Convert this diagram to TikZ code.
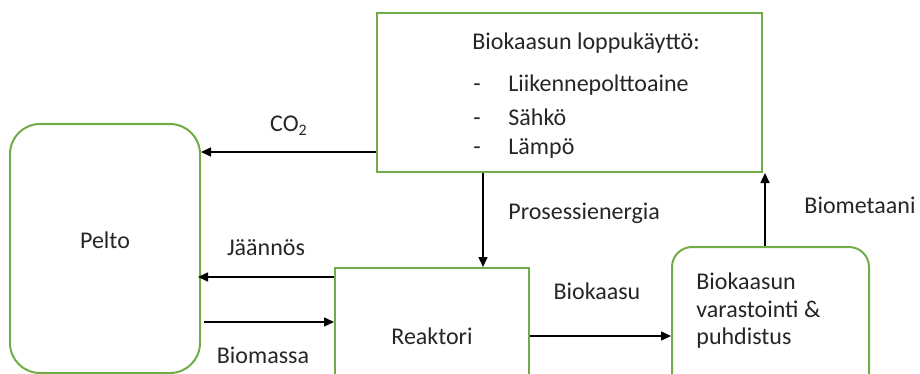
\documentclass[tikz,border=0pt]{standalone}
\usepackage{fontspec}
\setmainfont{Carlito}
\usetikzlibrary{arrows.meta}

\definecolor{boxgreen}{RGB}{112,173,71}
\definecolor{textgray}{RGB}{38,38,38}

\tikzset{
    box/.style={draw=boxgreen, line width=1pt, inner sep=0pt},
    flow/.style={-{Triangle[length=5pt,width=4.5pt]}, line width=0.75pt},
    txt/.style={text=textgray, inner sep=0pt}
}

\begin{document}
\begin{tikzpicture}[x=0.5pt, y=-0.5pt, font=\fontsize{12}{14}\selectfont]
    \clip (0,0) rectangle (920,374);

    % Draw the boxes
    \node[box, rounded corners=15pt, minimum width=95pt, minimum height=124.5pt] (pelto) at (105,248.5) {};
    \node[box, minimum width=192.5pt, minimum height=79.5pt] (loppu) at (569.5,92.5) {};
    \node[box, minimum width=97pt, minimum height=68pt] (reaktori) at (432,336) {};
    \node[box, rounded corners=10pt, minimum width=98.5pt, minimum height=91.5pt] (varasto) at (770.5,338.5) {};

    % Texts inside the boxes
    \node[txt] (peltotxt) at (105,240) {Pelto};
    \node[txt] (reaktoritxt) at (432,336) {Reaktori};
    \node[txt, anchor=west] (otsikko) at (472,43) {Biokaasun loppukäyttö:};
    \node[txt, anchor=west] (kohta1) at (508,85) {Liikennepolttoaine};
    \node[txt, anchor=west] (kohta2) at (508,117) {Sähkö};
    \node[txt, anchor=west] (kohta3) at (508,148) {Lämpö};
    \node[txt, anchor=base west] (viiva1) at (kohta1.base -| 473,0) {-};
    \node[txt, anchor=base west] (viiva2) at (kohta2.base -| 473,0) {-};
    \node[txt, anchor=base west] (viiva3) at (kohta3.base -| 473,0) {-};
    \node[txt, anchor=west, align=left, font=\fontsize{12}{13.75}\selectfont] (varastotxt) at (696,311)
        {Biokaasun\\varastointi \&\\puhdistus};

    % Draw the arrows
    \draw[flow] (loppu.west |- 0,152) -- (pelto.east |- 0,152);
    \draw[flow] (reaktori.west |- 0,277) -- ([xshift=-1.5pt]pelto.east |- 0,277);
    \draw[flow] ([xshift=1.5pt]pelto.east |- 0,322) -- (reaktori.west |- 0,322);
    \draw[flow] (loppu.south -| 483,0) -- (reaktori.north -| 483,0);
    \draw[flow] (reaktori.east |- 0,336) -- (varasto.west |- 0,336);
    \draw[flow] (varasto.north -| 765,0) -- (loppu.south -| 765,0);

    % Labels for the arrows
    \node[txt] (co2) at (289,126) {CO\textsubscript{2}};
    \node[txt] (jaannos) at (266,248) {Jäännös};
    \node[txt] (biomassa) at (263,355) {Biomassa};
    \node[txt, anchor=west] (prosessi) at (508,213) {Prosessienergia};
    \node[txt] (biokaasu) at (597,291) {Biokaasu};
    \node[txt] (biometaani) at (860,205) {Biometaani};
\end{tikzpicture}
\end{document}
